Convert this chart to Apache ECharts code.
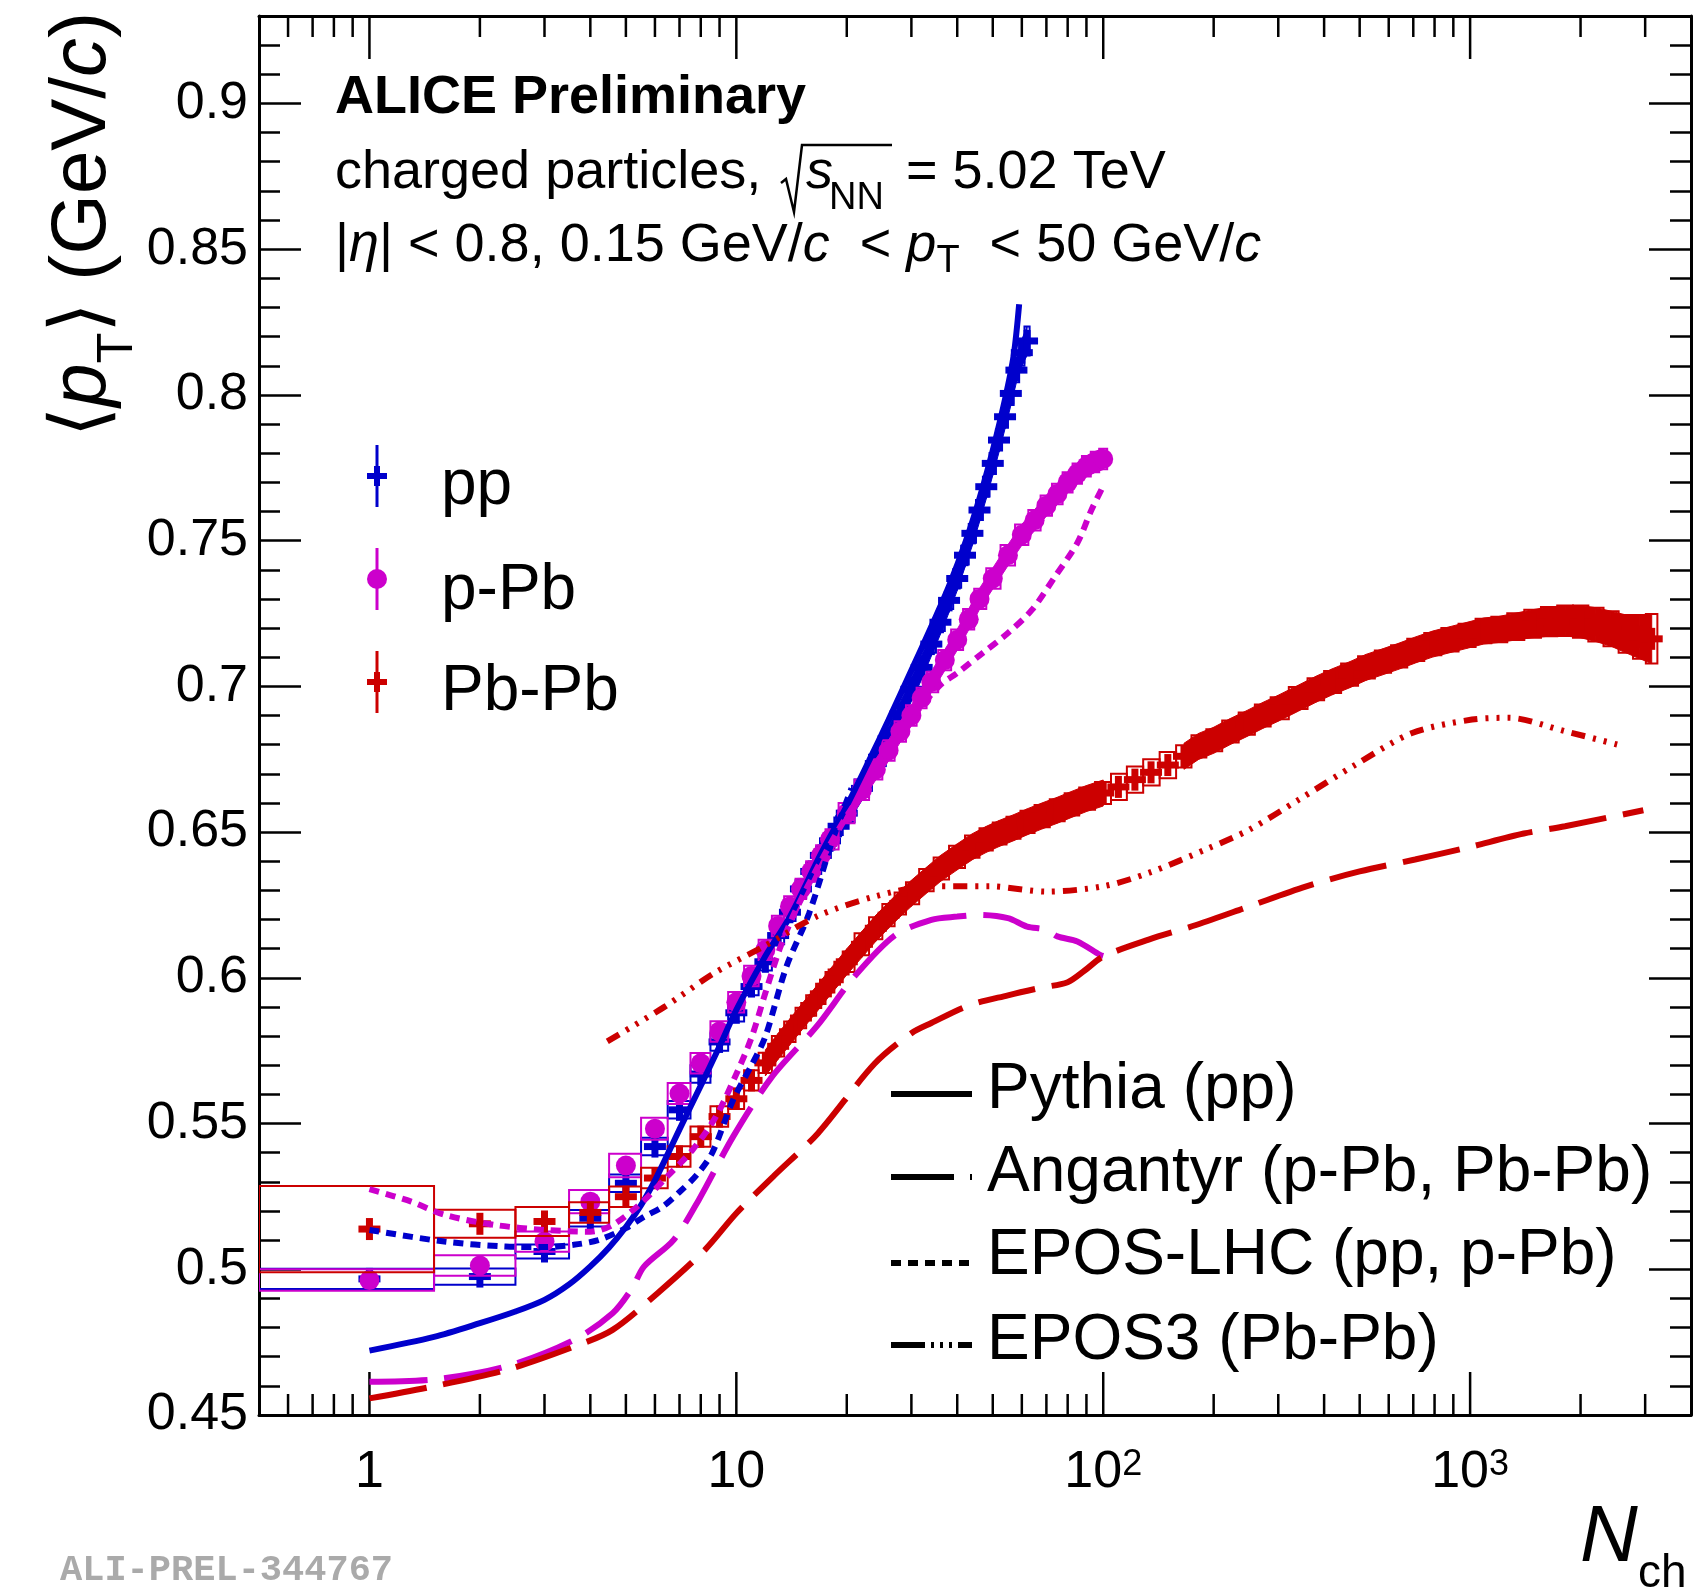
<!DOCTYPE html>
<html>
<head>
<meta charset="utf-8"/>
<title>mean pT vs Nch</title>
<script src="https://cdn.jsdelivr.net/npm/echarts@6/dist/echarts.min.js"></script>
<style>html,body{margin:0;background:#fff}#main{width:1707px;height:1593px}</style>
</head>
<body>
<div id="main"></div>
<script>
var FONT = "'Liberation Sans', Arial, Helvetica, 'DejaVu Sans', sans-serif";
var BLUE = '#0000cc', MAG = '#cc00cc', RED = '#cc0000';
var Y_MIN = 0.45, Y_MAX = 0.93;

// ---- data: pp
var ppN = [1,2,3,4,5,6,7,8,9,10,11,12,13,14,15,16,17,18,19,20,
  22,24,26,28,30,32,34,36,38,40,42,44,46,48,50,52,54,56,58,60,62];
var ppMean = [.4967,.4975,.5061,.5175,.5295,.5421,.5547,.567,.578,.588,.597,.6055,.6145,.6225,.6305,.6365,.642,.647,.652,.6565,
  .665,.6735,.682,.6905,.699,.7065,.7145,.722,.7295,.737,.745,.7525,.7605,.7685,.7765,.7845,.7925,.8005,.8085,.8145,.8185];
var ppSys = [.0035,.0028,.0024,.0028,.003,.003,.003,.003,.003,.003,.003,.003,.003,.003,.003,.003,.003,.003,.003,.003,
  .003,.003,.003,.003,.003,.003,.003,.003,.003,.0032,.0032,.0032,.0034,.0034,.0036,.0036,.0038,.004,.0042,.0045,.005];

// ---- data: p-Pb
var pPbN = [1,2,3,4,5,6,7,8,9,10,11,12,13,14,15,16,17,18,
  20,22,24,26,28,30,32,34,37,40,43,46,50,55,60,65,70,75,80,85,90,95,100];
var pPbMean = [.4963,.5013,.5095,.5232,.5356,.5482,.5603,.5707,.5816,.5916,.6006,.6096,.6178,.6245,.6305,.6365,.642,.6475,
  .6565,.6645,.6715,.678,.6845,.690,.696,.7015,.709,.716,.723,.730,.737,.745,.752,.757,.762,.766,.770,.773,.7755,.777,.778];
var pPbSys = [.0037,.0035,.0035,.004,.004,.0038,.0036,.0035,.0035,.0035,.0035,.0035,.0035,.0035,.0035,.0035,.0035,.0035,
  .0035,.0035,.0035,.0035,.0035,.0035,.0035,.0035,.0035,.0035,.0035,.0035,.0035,.0035,.0035,.0035,.0035,.0035,.0035,.0035,.0035,.0035,.0035];

// ---- data: Pb-Pb
var PbN = [1,2,3,4,5,6,7,8,9,10,11,12,13,14,15,16,17,18,19,20,
  22,24,26,28,30,33,36,40,44,48,52,57,62,68,75,82,90,100,110,122,
  135,150,166,182,200,222,246,272,300,341,380,420,470,520,580,638,710,790,880,980,
  1090,1195,1330,1480,1640,1815,2000,2200,2420,2660,2900,3126];
var PbMean = [.5138,.5156,.5164,.5195,.5249,.5313,.5387,.5455,.5524,.5585,.5648,.5708,.5765,.5815,.5862,.5905,.5945,.5985,.602,.6055,
  .6115,.617,.6215,.6255,.629,.6335,.6375,.6415,.645,.6475,.6495,.6515,.6535,.6555,.6575,.6595,.6615,.6634,.6655,.668,
  .6705,.673,.676,.6794,.6815,.6845,.6872,.690,.6925,.696,.699,.7015,.704,.7065,.7085,.7103,.7125,.7145,.716,.7175,
  .719,.7195,.7205,.7215,.7222,.7225,.7222,.7212,.7198,.718,.717,.7163];
var PbSys = [.0148,.0048,.005,.0035,.0035,.0035,.0035,.0035,.0035,.0035,.0035,.0035,.0035,.0035,.0035,.0035,.0035,.0035,.0035,.0035,
  .0038,.0038,.0038,.0038,.0038,.0038,.0038,.0038,.0038,.0038,.0038,.0038,.0038,.0038,.0038,.0038,.0038,.0038,.0045,.0045,
  .0045,.0045,.0038,.0038,.0038,.0038,.0038,.0038,.0038,.0038,.0038,.0038,.0038,.0038,.0038,.0038,.0038,.0038,.004,.004,
  .0042,.0044,.0046,.0048,.005,.0052,.0055,.0058,.006,.0065,.0075,.0085];

// ---- models
var pythiaN = [1,1.5,2,2.5,3,3.5,4,4.5,5,5.5,6,6.5,7,8,9,10,12,14,17,20,23,26,30,34,38,42,46,50,54,57,59];
var pythiaMean = [.4721,.4768,.4815,.4855,.4895,.4948,.501,.5075,.5145,.522,.5305,.5395,.548,.563,.5765,.589,.6075,.621,.6425,.659,.6745,.6885,.7055,.7205,.7345,.749,.7645,.781,.7985,.8135,.8311];

var angPPbN = [1,1.5,2.35,3.6,4.6,5.2,5.6,6.75,7.9,9.8,12.5,16.6,21,27,34,40,46,55,62,70,75,85,98,100];
var angPPbMean = [.4614,.4622,.4666,.4757,.4849,.4935,.5009,.5101,.5238,.5455,.566,.5835,.6005,.6145,.6199,.621,.6216,.6205,.6176,.6165,.6142,.6125,.6079,.6075];

var angPbPbN = [1,1.45,2.35,3.6,4.6,6.1,8.2,10,12.6,16.7,23.8,30,34,43,55,67,80,89,100,133,180,250,356,500,708,970,1400,1815,2966];
var angPbPbMean = [.4557,.4595,.4654,.4734,.4792,.4918,.5066,.5192,.5318,.5467,.5705,.581,.5845,.5905,.594,.5965,.5985,.6025,.6073,.6131,.6182,.6245,.6313,.6365,.6406,.6445,.6495,.652,.6575];

var eposPpN = [1,1.6,2.35,3,3.6,4.2,5,5.6,6.3,7,7.8,8.6,9.8,11,12,13.7,15.8,18.3,20.6];
var eposPpMean = [.5135,.5095,.5078,.5076,.5084,.51,.5141,.518,.5215,.5265,.5324,.540,.5581,.570,.5799,.6039,.6222,.6474,.665];

var eposPPbN = [1,1.3,1.6,2.2,3,4,4.6,5.5,6.5,7.6,8.8,10,11,12,13.1,14.4,17,20,25,30,36,40,47,55,64,74,85,93,100];
var eposPPbMean = [.5275,.5232,.5187,.5152,.5135,.5129,.5152,.5227,.532,.541,.5524,.567,.5795,.5948,.6096,.6222,.640,.6555,.674,.689,.7005,.7046,.7115,.7183,.7263,.7378,.7492,.7607,.7687];

var epos3N = [4.45,6.4,8.7,11.9,16.6,24,34,49,70,100,133,194,250,341,487,695,1012,1276,1815,2525];
var epos3Mean = [.5782,.5902,.6016,.6108,.6211,.628,.6314,.6314,.6296,.6314,.636,.6445,.6508,.6611,.6731,.684,.6886,.6892,.6846,.680];

// ---- axis ticks
var xMajor = [1, 10, 100, 1000];
var xMinor = [0.6,0.7,0.8,0.9,2,3,4,5,6,7,8,9,20,30,40,50,60,70,80,90,200,300,400,500,600,700,800,900,2000,3000];

function pack(n, m, s) {
  return n.map(function (x, i) {
    var lo = i === 0 ? x - (n[1] - x) / 2 : (n[i - 1] + x) / 2;
    var hi = i === n.length - 1 ? x + (x - n[i - 1]) / 2 : (x + n[i + 1]) / 2;
    return [x, m[i], s[i], lo, hi];
  });
}
function zip(n, m) { return n.map(function (x, i) { return [x, m[i]]; }); }

function boxes(color) {
  return function (params, api) {
    var a = api.coord([api.value(3), api.value(1) + api.value(2)]);
    var b = api.coord([api.value(4), api.value(1) - api.value(2)]);
    return {type: 'rect', shape: {x: a[0], y: a[1], width: b[0] - a[0], height: b[1] - a[1]},
      style: {fill: 'none', stroke: color, lineWidth: 2}};
  };
}
function crosses(color) {
  return function (params, api) {
    var p = api.coord([api.value(0), api.value(1)]);
    return {type: 'group', children: [
      {type: 'rect', shape: {x: p[0] - 11, y: p[1] - 3.5, width: 22, height: 7}, style: {fill: color}},
      {type: 'rect', shape: {x: p[0] - 3.5, y: p[1] - 11, width: 7, height: 22}, style: {fill: color}}
    ]};
  };
}
function circles(color) {
  return function (params, api) {
    var p = api.coord([api.value(0), api.value(1)]);
    return {type: 'circle', shape: {cx: p[0], cy: p[1], r: 10}, style: {fill: color}};
  };
}
// where the measured points sit closer than a marker width they merge into one solid band
function band(pts, color, half, from, to) {
  var sel = pts.filter(function (p) { return p[0] >= from && p[0] <= to; });
  return custom(sel, function (params, api) {
    var i = params.dataIndex;
    if (i >= sel.length - 1) return null;
    function edge(p) {
      var c = api.coord([p[0], p[1]]);
      var up = api.coord([p[0], p[1] + p[2]])[1];
      var dn = api.coord([p[0], p[1] - p[2]])[1];
      return [c[0], Math.min(c[1] - half, up), Math.max(c[1] + half, dn)];
    }
    var a = edge(sel[i]), b = edge(sel[i + 1]);
    return {type: 'polygon', shape: {points: [[a[0], a[1]], [b[0], b[1]], [b[0], b[2]], [a[0], a[2]]]},
      style: {fill: color, stroke: color, lineWidth: 1}};
  }, true);
}
function xTicks(len) {
  return function (params, api) {
    var b = api.coord([api.value(0), Y_MIN]);
    var t = api.coord([api.value(0), Y_MAX]);
    return {type: 'group', children: [
      {type: 'line', shape: {x1: b[0], y1: b[1], x2: b[0], y2: b[1] - len}, style: {stroke: '#000', lineWidth: 2.5}},
      {type: 'line', shape: {x1: t[0], y1: t[1], x2: t[0], y2: t[1] + len}, style: {stroke: '#000', lineWidth: 2.5}}
    ]};
  };
}
function custom(data, fn, clip) {
  return {type: 'custom', data: data, renderItem: fn, encode: {x: 0, y: 1}, clip: clip, silent: true};
}
function model(n, m, color, dash) {
  return {type: 'line', data: zip(n, m), symbol: 'none', showSymbol: false, smooth: 0.3, clip: true, silent: true,
    lineStyle: {color: color, width: 6, type: dash, cap: 'butt'}};
}
function txt(x, y, s, o) {
  o = o || {};
  return {type: 'text', x: x, y: y, rotation: o.rot || 0, silent: true, style: {
    text: s, fill: o.color || '#000', fontSize: o.size || 54, fontFamily: o.family || FONT,
    fontWeight: o.weight || 'normal', fontStyle: o.style || 'normal',
    align: o.align || 'left', verticalAlign: 'middle', lineHeight: o.lh, rich: o.rich}};
}
function tok(size, extra) {
  var t = {fontSize: size, fontFamily: FONT, fill: '#000'};
  for (var k in extra) t[k] = extra[k];
  return t;
}

var fmtX = function (v) {
  var e = Math.round(Math.log(v) / Math.LN10 * 1000) / 1000;
  if (e === 0) return '1';
  if (e === 1) return '10';
  if (e === 2) return '10{sup|2}';
  if (e === 3) return '10{sup|3}';
  return '';
};
var fmtY = function (v) {
  var q = v / 0.05;
  return Math.abs(q - Math.round(q)) < 1e-6 ? String(+v.toFixed(2)) : '';
};

var xBase = {type: 'log', logBase: 10, min: 0.5, max: 4000, splitLine: {show: false},
  axisLine: {show: true, lineStyle: {color: '#000', width: 3}}, axisTick: {show: false}};
var yBase = {type: 'value', min: Y_MIN, max: Y_MAX, interval: 0.05, splitLine: {show: false},
  axisLine: {show: true, lineStyle: {color: '#000', width: 3}},
  axisTick: {show: true, inside: true, length: 42, lineStyle: {color: '#000', width: 2.5}},
  minorTick: {show: true, splitNumber: 5, length: 21, lineStyle: {color: '#000', width: 2.5}}};

function ext(a, b) { var r = {}; var k; for (k in a) r[k] = a[k]; for (k in b) r[k] = b[k]; return r; }

var ppPts = pack(ppN, ppMean, ppSys);
var pPbPts = pack(pPbN, pPbMean, pPbSys);
var PbPts = pack(PbN, PbMean, PbSys);

var chart = echarts.init(document.getElementById('main'));
chart.setOption({
  animation: false,
  backgroundColor: '#fff',
  grid: {left: 259, top: 16, width: 1432, height: 1399, containLabel: false, outerBoundsMode: 'none'},
  xAxis: [
    ext(xBase, {position: 'bottom', axisLabel: {margin: 32, fontSize: 52, lineHeight: 52, color: '#000', fontFamily: FONT,
      formatter: fmtX, rich: {sup: {fontSize: 36, lineHeight: 30, verticalAlign: 'top', fontFamily: FONT, color: '#000'}}}}),
    ext(xBase, {position: 'top', axisLabel: {show: false}})
  ],
  yAxis: [
    ext(yBase, {position: 'left', axisLabel: {margin: 11, fontSize: 52, color: '#000', fontFamily: FONT, formatter: fmtY}}),
    ext(yBase, {position: 'right', axisLabel: {show: false}})
  ],
  series: [
    custom(xMajor.map(function (v) { return [v, Y_MIN]; }), xTicks(43), false),
    custom(xMinor.map(function (v) { return [v, Y_MIN]; }), xTicks(21), false),
    custom(ppPts, boxes(BLUE), true),
    band(ppPts, BLUE, 12, 20, 100),
    custom(ppPts, crosses(BLUE), true),
    custom(pPbPts, boxes(MAG), true),
    band(pPbPts, MAG, 10.5, 20, 100),
    custom(pPbPts, circles(MAG), true),
    custom(PbPts, boxes(RED), true),
    band(PbPts, RED, 13, 12, 100),
    band(PbPts, RED, 13, 166, 4000),
    custom(PbPts, crosses(RED), true),
    model(pythiaN, pythiaMean, BLUE, 'solid'),
    model(angPPbN, angPPbMean, MAG, [58, 17]),
    model(angPbPbN, angPbPbMean, RED, [58, 17]),
    model(eposPpN, eposPpMean, BLUE, [10, 7]),
    model(eposPPbN, eposPPbMean, MAG, [10, 7]),
    model(epos3N, epos3Mean, RED, [14, 8, 3, 8, 3, 8, 3, 8])
  ],
  graphic: [
    // y title
    txt(83, 12, '⟨{i|p}{s|T}⟩ (GeV/{i|c})', {size: 78, lh: 120, rot: Math.PI / 2, align: 'right',
      rich: {i: tok(78, {fontStyle: 'italic', lineHeight: 120}), s: tok(50, {verticalAlign: 'bottom', lineHeight: 20})}}),
    // x title
    txt(1580, 1539, 'N', {size: 80, style: 'italic'}),
    txt(1638, 1574, 'ch', {size: 46}),
    // header
    txt(335, 98, 'ALICE Preliminary', {size: 54, weight: 'bold'}),
    txt(335, 173, 'charged particles,', {size: 54}),
    {type: 'polyline', silent: true, shape: {points: [[781, 183], [786, 179], [794, 212], [802, 145], [892, 145]]},
      style: {stroke: '#000', lineWidth: 2.5, fill: null}},
    txt(806, 173, 's', {size: 54, style: 'italic'}),
    txt(829, 199, 'NN', {size: 38}),
    txt(906, 173, '= 5.02 TeV', {size: 54}),
    txt(335, 246, '|{i|η}| < 0.8, 0.15 GeV/{i|c}  < {i|p}{s|T}  < 50 GeV/{i|c}', {size: 54, lh: 70,
      rich: {i: tok(54, {fontStyle: 'italic', lineHeight: 70}), s: tok(38, {verticalAlign: 'bottom', lineHeight: 8})}}),
    // data legend
    {type: 'line', silent: true, shape: {x1: 377, y1: 445, x2: 377, y2: 507}, style: {stroke: BLUE, lineWidth: 3}},
    {type: 'rect', silent: true, shape: {x: 367, y: 473, width: 20, height: 6}, style: {fill: BLUE}},
    {type: 'rect', silent: true, shape: {x: 374, y: 466, width: 6, height: 20}, style: {fill: BLUE}},
    {type: 'line', silent: true, shape: {x1: 377, y1: 548, x2: 377, y2: 610}, style: {stroke: MAG, lineWidth: 3}},
    {type: 'circle', silent: true, shape: {cx: 377, cy: 579, r: 10}, style: {fill: MAG}},
    {type: 'line', silent: true, shape: {x1: 377, y1: 651, x2: 377, y2: 713}, style: {stroke: RED, lineWidth: 3}},
    {type: 'rect', silent: true, shape: {x: 367, y: 679, width: 20, height: 6}, style: {fill: RED}},
    {type: 'rect', silent: true, shape: {x: 374, y: 672, width: 6, height: 20}, style: {fill: RED}},
    txt(441, 486, 'pp', {size: 64}),
    txt(441, 591, 'p-Pb', {size: 64}),
    txt(441, 692, 'Pb-Pb', {size: 64}),
    // model legend
    {type: 'line', silent: true, shape: {x1: 891, y1: 1094, x2: 972, y2: 1094}, style: {stroke: '#000', lineWidth: 6}},
    {type: 'line', silent: true, shape: {x1: 891, y1: 1177, x2: 974, y2: 1177}, style: {stroke: '#000', lineWidth: 6, lineDash: [63, 16, 2, 20]}},
    {type: 'line', silent: true, shape: {x1: 891, y1: 1263, x2: 972, y2: 1263}, style: {stroke: '#000', lineWidth: 6, lineDash: [10, 7]}},
    {type: 'line', silent: true, shape: {x1: 891, y1: 1345, x2: 972, y2: 1345}, style: {stroke: '#000', lineWidth: 6, lineDash: [34, 6, 3, 6, 3, 6, 3, 6]}},
    txt(987, 1090, 'Pythia (pp)', {size: 64}),
    txt(987, 1173, 'Angantyr (p-Pb, Pb-Pb)', {size: 64}),
    txt(987, 1256, 'EPOS-LHC (pp, p-Pb)', {size: 64}),
    txt(987, 1341, 'EPOS3 (Pb-Pb)', {size: 64}),
    // figure id
    txt(60, 1571, 'ALI-PREL-344767', {size: 37, weight: 'bold', family: "'Liberation Mono', 'DejaVu Sans Mono', monospace", color: '#aaaaaa'})
  ]
});
</script>
</body>
</html>
